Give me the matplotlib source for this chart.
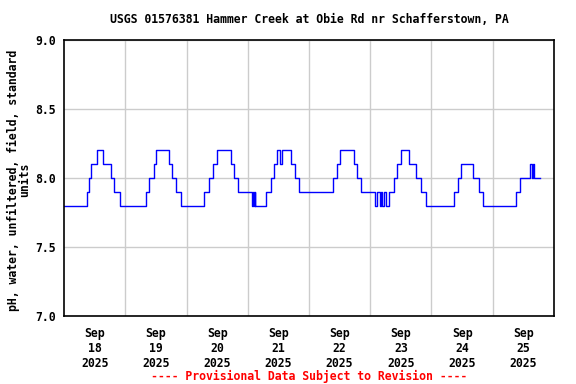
import matplotlib
matplotlib.use("Agg")
import matplotlib.pyplot as plt
import numpy as np

# Step breakpoints: hours since 2025-09-18 00:00, pH value from that time onward
hours = [0.0, 9.0, 9.7, 10.7, 12.9, 15.4, 18.5, 19.7, 22.0,
         32.1, 33.5, 35.2, 36.1, 41.0, 42.4, 43.9, 46.0,
         54.9, 56.9, 58.4, 59.8, 65.3, 66.6, 68.2,
         73.8, 74.1, 74.5, 74.7, 75.0,
         79.3, 81.0, 82.3, 83.6, 84.8, 85.3, 89.1, 90.4, 92.0,
         105.3, 106.8, 108.1, 113.6, 114.8, 116.2,
         121.9, 122.7, 124.0, 124.4, 124.8, 125.3, 126.1,
         127.5, 129.2, 130.3, 132.0, 135.3, 138.1, 139.8, 141.8,
         152.7, 154.3, 155.6, 160.2, 162.8, 164.3,
         177.1, 178.8, 182.7, 183.3, 183.8, 184.3, 186.5]
ph = [7.8, 7.9, 8.0, 8.1, 8.2, 8.1, 8.0, 7.9, 7.8,
      7.9, 8.0, 8.1, 8.2, 8.1, 8.0, 7.9, 7.8,
      7.9, 8.0, 8.1, 8.2, 8.1, 8.0, 7.9,
      7.8, 7.9, 7.8, 7.9, 7.8,
      7.9, 8.0, 8.1, 8.2, 8.1, 8.2, 8.1, 8.0, 7.9,
      8.0, 8.1, 8.2, 8.1, 8.0, 7.9,
      7.8, 7.9, 7.8, 7.9, 7.8, 7.9, 7.8,
      7.9, 8.0, 8.1, 8.2, 8.1, 8.0, 7.9, 7.8,
      7.9, 8.0, 8.1, 8.0, 7.9, 7.8,
      7.9, 8.0, 8.1, 8.0, 8.1, 8.0, 8.0]

day_labels = ["Sep\n18\n2025", "Sep\n19\n2025", "Sep\n20\n2025", "Sep\n21\n2025",
              "Sep\n22\n2025", "Sep\n23\n2025", "Sep\n24\n2025", "Sep\n25\n2025"]
y_ticks = [7.0, 7.5, 8.0, 8.5, 9.0]
y_tick_labels = ["7.0", "7.5", "8.0", "8.5", "9.0"]

title = "USGS 01576381 Hammer Creek at Obie Rd nr Schafferstown, PA"
ylabel = "pH, water, unfiltered, field, standard\nunits"
footer = "---- Provisional Data Subject to Revision ----"

font = dict(family="DejaVu Sans Mono", weight="bold", size=8.3)

fig = plt.figure(figsize=(5.76, 3.84), dpi=100)
ax = fig.add_axes([64/576, 1-316/384, (554-64)/576, (316-40)/384])

ax.plot(hours, ph, drawstyle="steps-post", color="#0000FF", linewidth=1.0)

ndays = len(day_labels)
ax.set_xlim(0, 24*ndays)
ax.set_ylim(7.0, 9.0)

ax.set_xticks([24*k for k in range(1, ndays)])
ax.set_xticklabels([])
ax.set_xticks([12 + 24*k for k in range(ndays)], minor=True)
ax.set_xticklabels(day_labels, minor=True, fontdict=font, linespacing=1.2)
ax.set_yticks(y_ticks)
ax.set_yticklabels(y_tick_labels, fontdict=font)

ax.tick_params(axis="both", which="both", length=0)
ax.tick_params(axis="x", which="minor", pad=8)
ax.tick_params(axis="y", pad=6)

ax.grid(True, which="major", color="#cccccc", linewidth=1.0)
ax.set_axisbelow(True)
for s in ax.spines.values():
    s.set_linewidth(1.2)
    s.set_color("black")

ax.set_title(title, fontdict=font, pad=12)
fig.text(19/576, 1-180/384, ylabel, rotation=90, ha="center", va="center",
         linespacing=0.85, **font)
fig.text(309/576, 1-376/384, footer, ha="center", va="center", color="red", **font)

fig.savefig("out.png", dpi=100)
